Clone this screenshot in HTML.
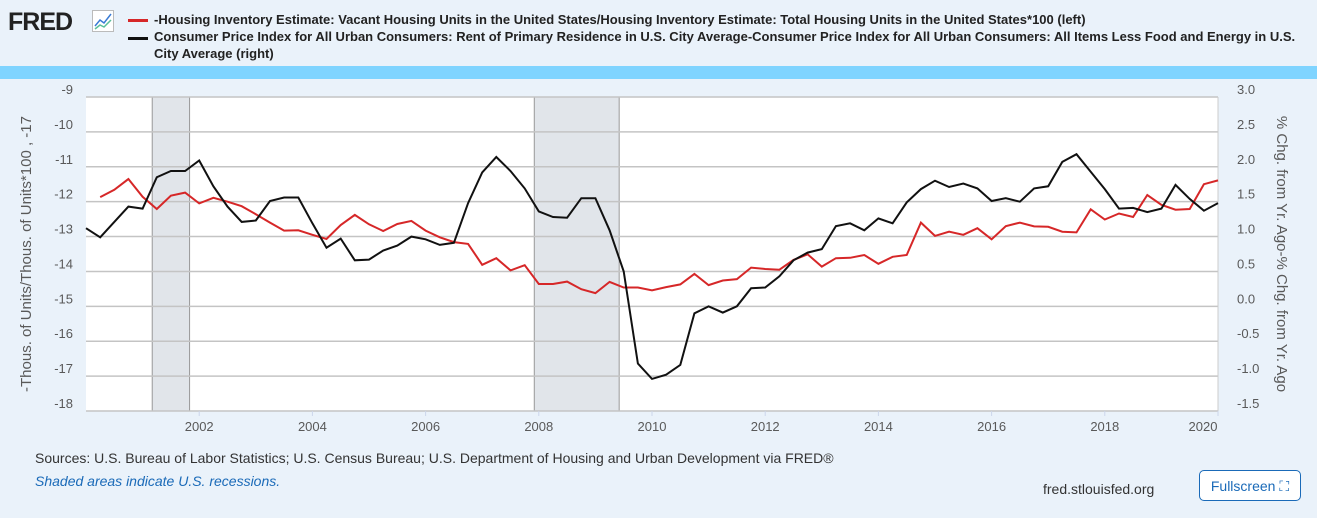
<!DOCTYPE html>
<html><head><meta charset="utf-8"><style>
body{margin:0;width:1317px;height:518px;background:#eaf2fa;font-family:"Liberation Sans",sans-serif;overflow:hidden;position:relative}
.lg{position:absolute;left:154px;font-size:13px;font-weight:bold;color:#222;line-height:17px}
</style></head><body>
<div style="position:absolute;left:8px;top:8px;font:bold 25px 'Liberation Sans',sans-serif;letter-spacing:-1px;color:#222">FRED</div>
<svg style="position:absolute;left:92px;top:10px" width="22" height="22"><rect x="0.5" y="0.5" width="21" height="21" fill="#fff" stroke="#bbb"/><polyline points="3,16 8,10 12,13 19,4" fill="none" stroke="#3a7bd5" stroke-width="1.5"/><polyline points="3,19 8,15 12,17 19,10" fill="none" stroke="#5bbf9a" stroke-width="1.5"/></svg>
<div style="position:absolute;left:128px;top:19px;width:20px;height:3px;background:#d62728"></div>
<div style="position:absolute;left:128px;top:37px;width:20px;height:3px;background:#111"></div>
<div class="lg" style="top:11px">-Housing Inventory Estimate: Vacant Housing Units in the United States/Housing Inventory Estimate: Total Housing Units in the United States*100 (left)</div>
<div class="lg" style="top:28px;width:1150px">Consumer Price Index for All Urban Consumers: Rent of Primary Residence in U.S. City Average-Consumer Price Index for All Urban Consumers: All Items Less Food and Energy in U.S. City Average (right)</div>
<div style="position:absolute;left:0;top:66px;width:1317px;height:13px;background:#7fd4ff"></div>
<svg id="ch" width="1317" height="518" style="position:absolute;left:0;top:0"></svg>
<div style="position:absolute;left:35px;top:450px;font-size:14px;color:#333">Sources: U.S. Bureau of Labor Statistics; U.S. Census Bureau; U.S. Department of Housing and Urban Development via FRED®</div>
<div style="position:absolute;left:35px;top:473px;font-size:14px;font-style:italic;color:#1a6ab8">Shaded areas indicate U.S. recessions.</div>
<div style="position:absolute;left:1043px;top:481px;font-size:14px;color:#333">fred.stlouisfed.org</div>
<div style="position:absolute;left:1199px;top:470px;width:102px;height:31px;border:1px solid #1a6ab8;border-radius:5px;background:#fff;color:#1a6ab8;font-size:14px;line-height:31px;text-align:center;box-sizing:border-box">Fullscreen ⛶</div>
<script>
const redVals=[-11.87,-11.66,-11.35,-11.86,-12.21,-11.83,-11.74,-12.05,-11.89,-12.00,-12.13,-12.36,-12.60,-12.83,-12.82,-12.95,-13.07,-12.67,-12.38,-12.65,-12.84,-12.64,-12.55,-12.83,-13.02,-13.16,-13.21,-13.81,-13.62,-13.97,-13.82,-14.36,-14.36,-14.29,-14.51,-14.62,-14.30,-14.46,-14.46,-14.54,-14.45,-14.37,-14.07,-14.39,-14.26,-14.22,-13.89,-13.93,-13.95,-13.67,-13.51,-13.86,-13.62,-13.61,-13.53,-13.78,-13.58,-13.53,-12.60,-12.98,-12.86,-12.95,-12.76,-13.08,-12.70,-12.60,-12.71,-12.72,-12.86,-12.88,-12.22,-12.51,-12.34,-12.44,-11.81,-12.09,-12.23,-12.21,-11.50,-11.39];
const redStart=2000.25;
const blackVals=[1.12,0.99,1.21,1.43,1.40,1.85,1.94,1.94,2.09,1.72,1.43,1.21,1.23,1.51,1.56,1.56,1.19,0.84,0.97,0.66,0.67,0.80,0.87,1.00,0.96,0.88,0.91,1.48,1.92,2.14,1.94,1.69,1.36,1.28,1.27,1.55,1.55,1.09,0.50,-0.82,-1.04,-0.98,-0.84,-0.10,0.00,-0.09,0.00,0.26,0.27,0.43,0.66,0.77,0.82,1.15,1.19,1.09,1.26,1.19,1.49,1.68,1.80,1.71,1.76,1.69,1.51,1.55,1.50,1.69,1.72,2.07,2.18,1.93,1.68,1.40,1.41,1.35,1.40,1.74,1.54,1.37,1.48];
const blackStart=2000.0;
const leftTicks=[-9,-10,-11,-12,-13,-14,-15,-16,-17,-18];
const rightTicks=["3.0","2.5","2.0","1.5","1.0","0.5","0.0","-0.5","-1.0","-1.5"];
const xTicks=[2002,2004,2006,2008,2010,2012,2014,2016,2018,2020];
const recessions=[[2001.17,2001.83],[2007.92,2009.42]];
const X0=86,X1=1218,Y0=97,Y1=411;
const xs=t=>X0+(t-2000)/20*(X1-X0);
const yl=v=>Y0+(-9-v)/9*(Y1-Y0);
const yr=v=>Y0+(3-v)/4.5*(Y1-Y0);
const svg=document.getElementById('ch');const NS='http://www.w3.org/2000/svg';
function mk(tag,a){const e=document.createElementNS(NS,tag);for(const k in a)e.setAttribute(k,a[k]);svg.appendChild(e);return e;}
let e=mk('rect',{x:X0,y:Y0,width:X1-X0,height:Y1-Y0,fill:'#fff'});


recessions.forEach(r=>{const el=mk('rect',{x:xs(r[0]),y:Y0,width:xs(r[1])-xs(r[0]),height:Y1-Y0,fill:'#e1e5ea',stroke:'#999','stroke-width':1});

});
leftTicks.forEach((v,i)=>{const y=yl(v);const g=mk('line',{x1:X0,x2:X1,y1:y,y2:y,stroke:'#c4c4c4','stroke-width':1.5});


const t=mk('text',{x:73,y:y-3,'text-anchor':'end','font-size':13,fill:'#595959','font-family':'Liberation Sans'});t.textContent=v;


const r=mk('text',{x:1237,y:y-3,'font-size':13,fill:'#595959','font-family':'Liberation Sans'});r.textContent=rightTicks[i];

});
mk('line',{x1:X1,x2:X1,y1:Y0,y2:Y1,stroke:'#ccc'});
xTicks.forEach(v=>{const x=xs(v);mk('line',{x1:x,x2:x,y1:Y1,y2:Y1+5,stroke:'#ccd6eb'});
const t=mk('text',{x:v==2020?x-15:x,y:431,'text-anchor':'middle','font-size':13,fill:'#595959','font-family':'Liberation Sans'});t.textContent=v;

});
let p=redVals.map((v,i)=>xs(redStart+i*0.25).toFixed(1)+','+yl(v).toFixed(1)).join(' ');
e=mk('polyline',{points:p,fill:'none',stroke:'#d62728','stroke-width':2});


p=blackVals.map((v,i)=>xs(blackStart+i*0.25).toFixed(1)+','+yr(v).toFixed(1)).join(' ');
e=mk('polyline',{points:p,fill:'none',stroke:'#111','stroke-width':2});


e=mk('text',{x:0,y:0,'font-size':15,fill:'#595959','text-anchor':'middle','font-family':'Liberation Sans',transform:'translate(31,254) rotate(-90)'});e.textContent='-Thous. of Units/Thous. of Units*100 , -17';


e=mk('text',{x:0,y:0,'font-size':15,fill:'#595959','text-anchor':'middle','font-family':'Liberation Sans',transform:'translate(1277,254) rotate(90)'});e.textContent='% Chg. from Yr. Ago-% Chg. from Yr. Ago';


</script>
</body></html>
